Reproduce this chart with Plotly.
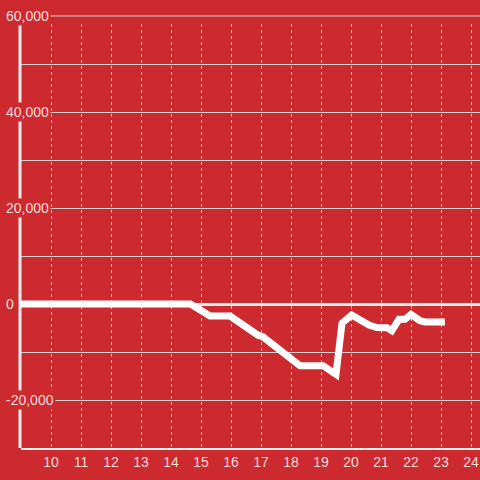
import plotly.graph_objects as go

# data
x_vals = [9.0, 14.65, 15.3, 15.97, 16.9, 17.06, 18.3, 19.07, 19.5, 19.7, 20.02, 20.6, 20.86, 21.2, 21.36, 21.6, 21.8, 22.0, 22.3, 22.47, 23.13]
y_vals = [0, 0, -2500, -2500, -6500, -6800, -12850, -12850, -14650, -4000, -2300, -4400, -4900, -4950, -5550, -3200, -3200, -2150, -3470, -3750, -3750]

x_ticks = [10, 11, 12, 13, 14, 15, 16, 17, 18, 19, 20, 21, 22, 23, 24]
y_label_vals = [60000, 40000, 20000, 0, -20000]
y_label_text = ["60,000", "40,000", "20,000", "0", "-20,000"]

BG = "#cc2a2f"
GRID = "#cfcfcf"
TXT = "#f3dcdc"
FONT = "Liberation Sans, Arial, sans-serif"

Y_MIN, Y_MAX = -30000, 58333.3

fig = go.Figure()
fig.add_trace(go.Scatter(x=x_vals, y=y_vals, mode="lines",
                         line=dict(color="#ffffff", width=7),
                         hoverinfo="skip", showlegend=False))

W, H = 480, 480
ml, mr, mt, mb = 21, 0, 24, 32
pw = W - ml - mr
ph = H - mt - mb


def yref_for(v):
    # values above the axis range are placed in paper coordinates on the same scale
    if v <= Y_MAX:
        return dict(y=v, yref="y")
    return dict(y=(v - Y_MIN) / (Y_MAX - Y_MIN), yref="paper")


annotations = []
shapes = [dict(type="line", xref="paper", yref="paper", x0=-1 / pw, x1=-1 / pw,
               y0=0, y1=1, line=dict(color="#eeeeee", width=3), layer="below")]
for v, t in zip(y_label_vals, y_label_text):
    annotations.append(dict(x=(4 - ml) / pw, xref="paper", xanchor="left",
                            yanchor="middle", text=t, showarrow=False,
                            bgcolor=BG, borderpad=1,
                            font=dict(family=FONT, size=14, color=TXT), **yref_for(v)))
    if v > Y_MAX:
        r = yref_for(v)
        shapes.append(dict(type="line", xref="paper", yref="paper", x0=0, x1=1,
                           y0=r["y"], y1=r["y"], line=dict(color=GRID, width=1), layer="below"))

fig.update_layout(
    width=W, height=H,
    margin=dict(l=ml, r=mr, t=mt, b=mb, autoexpand=False),
    paper_bgcolor=BG, plot_bgcolor=BG,
    font=dict(family=FONT, size=14, color=TXT),
    xaxis=dict(range=[9.0, 24.3], tickvals=x_ticks, ticktext=[str(v) for v in x_ticks],
               showgrid=True, gridcolor=GRID, gridwidth=1, griddash="dot",
               zeroline=False, showline=True, linecolor="#eeeeee", linewidth=2,
               ticks="", automargin=False,
               tickfont=dict(size=14, color=TXT, family=FONT)),
    yaxis=dict(range=[Y_MIN, Y_MAX], dtick=10000, tick0=0, automargin=False,
               showgrid=True, gridcolor=GRID, gridwidth=1,
               zeroline=True, zerolinecolor="#eeeeee", zerolinewidth=3,
               showticklabels=False, showline=False, ticks=""),
    annotations=annotations,
    shapes=shapes,
)

fig.write_html("out.html", config={"displayModeBar": False},
               post_script="document.body.style.margin='0';document.body.style.background='%s';" % BG)
